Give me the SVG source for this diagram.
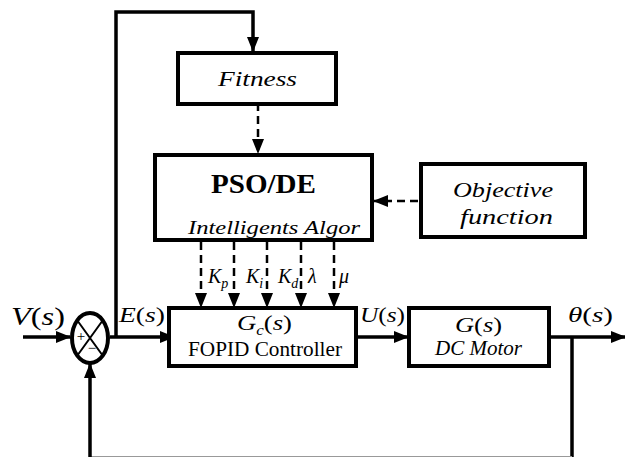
<svg xmlns="http://www.w3.org/2000/svg" width="625" height="457" viewBox="0 0 625 457">
  <style>
    .box { fill: #fff; stroke: #000; stroke-width: 4; }
    .ln { fill: none; stroke: #000; stroke-width: 3.5; }
    .dash { fill: none; stroke: #000; stroke-width: 2.5; stroke-dasharray: 8 5; }
    text { fill: #000; font-family: 'Times New Roman', Tinos, 'Liberation Serif', 'Noto Serif', 'DejaVu Serif', FreeSerif, Times, serif; }
    .it { font-style: italic; }
    .up { font-style: normal; }
  </style>
  <defs>
    <marker id="ah" viewBox="0 0 15 12" refX="14" refY="6" markerWidth="15" markerHeight="12" orient="auto" markerUnits="userSpaceOnUse">
      <path d="M0,0 L15,6 L0,12 z" fill="#000"/>
    </marker>
  </defs>

  <g id="connectors">
    <path class="ln" d="M116,337 V12 H253 V51" marker-end="url(#ah)"/>
    <path class="dash" d="M258,90 V153" marker-end="url(#ah)"/>
    <path class="dash" d="M418,201 H374" marker-end="url(#ah)"/>
    <path class="dash" d="M201,242 V307" marker-end="url(#ah)"/>
    <path class="dash" d="M234,242 V307" marker-end="url(#ah)"/>
    <path class="dash" d="M267,242 V307" marker-end="url(#ah)"/>
    <path class="dash" d="M301,242 V307" marker-end="url(#ah)"/>
    <path class="dash" d="M334,242 V307" marker-end="url(#ah)"/>
    <path class="ln" d="M23,337 H70" marker-end="url(#ah)"/>
    <path class="ln" d="M110,337 H174" marker-end="url(#ah)"/>
    <path class="ln" d="M350,337 H408" marker-end="url(#ah)"/>
    <path class="ln" d="M549,337 H625" marker-end="url(#ah)"/>
    <path class="ln" d="M572,337 V457"/>
    <line x1="90" y1="456.5" x2="572" y2="456.5" stroke="#999" stroke-width="1"/>
    <path class="ln" d="M90,457 V364" marker-end="url(#ah)"/>
  </g>

  <g id="fitness">
    <rect class="box" x="178" y="53" width="158" height="51"/>
    <text class="it" x="218" y="86" font-size="21" textLength="79" lengthAdjust="spacingAndGlyphs">Fitness</text>
  </g>

  <g id="pso">
    <rect class="box" x="155" y="155" width="217" height="85"/>
    <text x="211" y="193" font-size="27" font-weight="bold" textLength="105" lengthAdjust="spacingAndGlyphs">PSO/DE</text>
    <text class="it" x="188" y="234" font-size="19" textLength="172" lengthAdjust="spacingAndGlyphs">Intelligents Algor</text>
  </g>

  <g id="objective">
    <rect class="box" x="421" y="164" width="164" height="73"/>
    <text class="it" x="453" y="197" font-size="21" textLength="100" lengthAdjust="spacingAndGlyphs">Objective</text>
    <text class="it" x="460" y="224" font-size="21" textLength="93" lengthAdjust="spacingAndGlyphs">function</text>
  </g>

  <g id="sum">
    <ellipse cx="90" cy="338" rx="18" ry="25" fill="#fff" stroke="#000" stroke-width="4"/>
    <path d="M77,320 L103,356 M103,320 L77,356" stroke="#000" stroke-width="2"/>
    <text x="81" y="341" font-size="15" text-anchor="middle">+</text>
    <text x="92" y="353" font-size="15" text-anchor="middle">−</text>
  </g>

  <g id="controller">
    <rect class="box" x="169" y="308" width="187" height="58"/>
    <text class="it" x="237" y="330" font-size="22" textLength="55" lengthAdjust="spacingAndGlyphs">G<tspan font-size="14" dy="5">c</tspan><tspan class="up" dy="-5">(</tspan>s<tspan class="up">)</tspan></text>
    <text x="188" y="356" font-size="20" textLength="154" lengthAdjust="spacingAndGlyphs">FOPID Controller</text>
  </g>

  <g id="motor">
    <rect class="box" x="409" y="308" width="140" height="58"/>
    <text class="it" x="455" y="332" font-size="22" textLength="47" lengthAdjust="spacingAndGlyphs">G<tspan class="up">(</tspan>s<tspan class="up">)</tspan></text>
    <text class="it" x="435" y="355" font-size="20" textLength="87" lengthAdjust="spacingAndGlyphs">DC Motor</text>
  </g>

  <g id="labels">
    <text class="it" x="11" y="325" font-size="26" textLength="54" lengthAdjust="spacingAndGlyphs">V<tspan class="up">(</tspan>s<tspan class="up">)</tspan></text>
    <text class="it" x="119" y="322" font-size="22" textLength="46" lengthAdjust="spacingAndGlyphs">E<tspan class="up">(</tspan>s<tspan class="up">)</tspan></text>
    <text class="it" x="360" y="322" font-size="22" textLength="45" lengthAdjust="spacingAndGlyphs">U<tspan class="up">(</tspan>s<tspan class="up">)</tspan></text>
    <text class="it" x="568" y="322" font-size="22" textLength="45" lengthAdjust="spacingAndGlyphs">θ<tspan class="up">(</tspan>s<tspan class="up">)</tspan></text>
    <text class="it" x="208" y="283" font-size="20">K<tspan font-size="14" dy="5">p</tspan></text>
    <text class="it" x="246" y="283" font-size="20">K<tspan font-size="14" dy="5">i</tspan></text>
    <text class="it" x="278" y="283" font-size="20">K<tspan font-size="14" dy="5">d</tspan></text>
    <text class="it" x="308" y="283" font-size="20">λ</text>
    <text class="it" x="339" y="283" font-size="20">μ</text>
  </g>
</svg>
